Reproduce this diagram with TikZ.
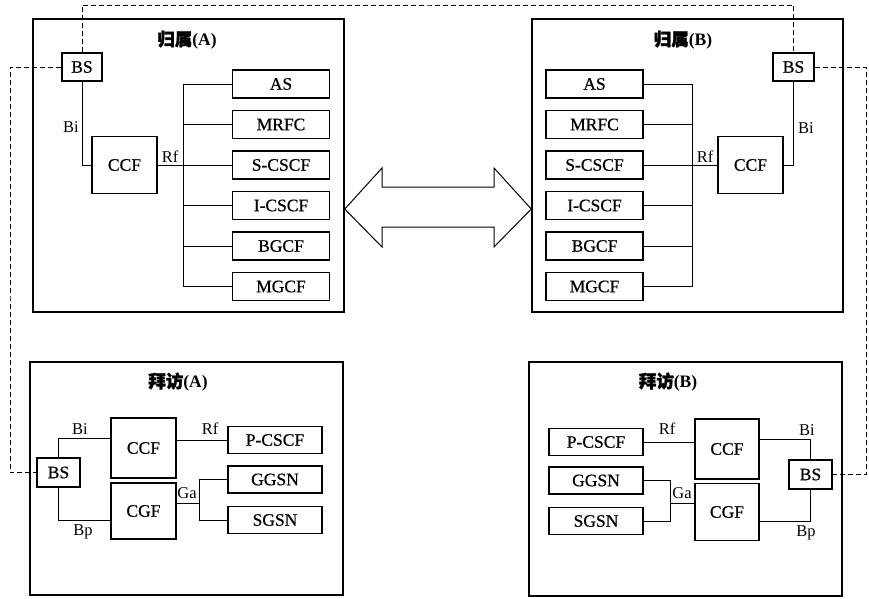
\documentclass[tikz,border=0pt]{standalone}
\usepackage{fontspec}
\setmainfont{Liberation Serif}
\newfontfamily\cjk[FakeBold=1.5]{Noto Sans CJK SC}
\newfontfamily\heavy[FakeBold=0.6]{Liberation Serif}
\usetikzlibrary{calc}
\begin{document}
\begin{tikzpicture}[x=1pt,y=-1pt,
  outer/.style={draw, line width=1.5pt, inner sep=0pt},
  fbox/.style={draw, line width=1.8pt, inner sep=0pt, minimum width=97pt, minimum height=28pt, font=\heavy\fontsize{17.5}{19}\selectfont},
  sbox/.style={draw, line width=1.8pt, inner sep=0pt, font=\heavy\fontsize{17.5}{19}\selectfont},
  conn/.style={line width=1pt},
  dline/.style={line width=1pt, dash pattern=on 5pt off 3pt},
  lbl/.style={inner sep=0pt, font=\fontsize{16.5}{18}\selectfont},
  ttl/.style={inner sep=0pt, font=\fontsize{17.5}{19}\selectfont\bfseries}
]
\useasboundingbox (0,0) rectangle (869,598);
\fill[white] (0,0) rectangle (869,598);

% ---------- Home A ----------
\node[outer, minimum width=311pt, minimum height=293pt] (homeA) at (188.5,165.5) {};
\node[ttl] (tHA) at (187,40) {{\cjk 归属}(A)};
\node[sbox, minimum width=40pt, minimum height=28pt] (bsA) at (82,67) {BS};
\node[sbox, minimum width=65pt, minimum height=57pt] (ccfA) at (124.5,165) {CCF};
\node[fbox] (asA) at (281,84) {AS};
\node[fbox] (mrfcA) at (281,124.5) {MRFC};
\node[fbox] (scscfA) at (281,165) {S-CSCF};
\node[fbox] (icscfA) at (281,205.5) {I-CSCF};
\node[fbox] (bgcfA) at (281,246) {BGCF};
\node[fbox] (mgcfA) at (281,286.5) {MGCF};
\coordinate (busA) at (183,165);
\draw[conn] (bsA.south) |- (ccfA.west);
\draw[conn] (ccfA.east) -- (busA);
\draw[conn] (asA.west) -- (asA.west -| busA) -- (mgcfA.west -| busA) -- (mgcfA.west);
\foreach \n in {mrfcA,scscfA,icscfA,bgcfA} \draw[conn] (\n.west) -- (\n.west -| busA);
\node[lbl] (lBiA) at (71,127) {Bi};
\node[lbl] (lRfA) at (170,157) {Rf};

% ---------- Home B ----------
\node[outer, minimum width=311pt, minimum height=293pt] (homeB) at (687.5,165.5) {};
\node[ttl] (tHB) at (683,40) {{\cjk 归属}(B)};
\node[sbox, minimum width=41pt, minimum height=28pt] (bsB) at (793.5,67) {BS};
\node[sbox, minimum width=65pt, minimum height=57pt] (ccfB) at (750.5,165) {CCF};
\node[fbox] (asB) at (594.5,84) {AS};
\node[fbox] (mrfcB) at (594.5,124.5) {MRFC};
\node[fbox] (scscfB) at (594.5,165) {S-CSCF};
\node[fbox] (icscfB) at (594.5,205.5) {I-CSCF};
\node[fbox] (bgcfB) at (594.5,246) {BGCF};
\node[fbox] (mgcfB) at (594.5,286.5) {MGCF};
\coordinate (busB) at (692,165);
\draw[conn] (bsB.south) |- (ccfB.east);
\draw[conn] (ccfB.west) -- (busB);
\draw[conn] (asB.east) -- (asB.east -| busB) -- (mgcfB.east -| busB) -- (mgcfB.east);
\foreach \n in {mrfcB,scscfB,icscfB,bgcfB} \draw[conn] (\n.east) -- (\n.east -| busB);
\node[lbl] (lBiB) at (806,128) {Bi};
\node[lbl] (lRfB) at (705,157) {Rf};

% ---------- double arrow ----------
\draw[line width=1pt] (homeA.east |- 0,209) -- (382,168) -- (382,187) -- (494,187) -- (494,168)
  -- (homeB.west |- 0,209) -- (494,247) -- (494,227) -- (382,227) -- (382,247) -- cycle;

% ---------- Visit A ----------
\node[outer, minimum width=313pt, minimum height=233pt] (visA) at (186.5,478.5) {};
\node[ttl] (tVA) at (178,382) {{\cjk 拜访}(A)};
\node[sbox, minimum width=43pt, minimum height=29pt] (bsvA) at (58.5,472.5) {BS};
\node[sbox, minimum width=65pt, minimum height=60pt] (ccfvA) at (143.5,448) {CCF};
\node[sbox, minimum width=65pt, minimum height=56pt] (cgfvA) at (143.5,511) {CGF};
\node[fbox, minimum width=94pt, minimum height=27pt] (pcscfvA) at (275,440) {P-CSCF};
\node[fbox, minimum width=94pt, minimum height=27pt] (ggsnvA) at (275,479.5) {GGSN};
\node[fbox, minimum width=94pt, minimum height=27pt] (sgsnvA) at (275,520) {SGSN};
\coordinate (gaA) at (199,503);
\draw[conn] (bsvA.north) |- ($(ccfvA.west)+(0,-10)$);
\draw[conn] (bsvA.south) |- ($(cgfvA.west)+(0,9)$);
\draw[conn] (ccfvA.east |- pcscfvA.west) -- (pcscfvA.west);
\draw[conn] (cgfvA.east |- gaA) -- (gaA);
\draw[conn] (ggsnvA.west) -- (ggsnvA.west -| gaA) -- (sgsnvA.west -| gaA) -- (sgsnvA.west);
\node[lbl] (lBivA) at (80,429) {Bi};
\node[lbl] (lBpvA) at (83,532) {Bp};
\node[lbl] (lRfvA) at (210,429) {Rf};
\node[lbl] (lGavA) at (187,493) {Ga};

% ---------- Visit B ----------
\node[outer, minimum width=313pt, minimum height=234pt] (visB) at (685.5,479) {};
\node[ttl] (tVB) at (668,382) {{\cjk 拜访}(B)};
\node[sbox, minimum width=43pt, minimum height=29pt] (bsvB) at (810.5,474.5) {BS};
\node[sbox, minimum width=64pt, minimum height=60pt] (ccfvB) at (727,449) {CCF};
\node[sbox, minimum width=64pt, minimum height=57pt] (cgfvB) at (727,512) {CGF};
\node[fbox, minimum width=94pt, minimum height=27pt] (pcscfvB) at (596,442) {P-CSCF};
\node[fbox, minimum width=94pt, minimum height=27pt] (ggsnvB) at (596,480.5) {GGSN};
\node[fbox, minimum width=94pt, minimum height=27pt] (sgsnvB) at (596,521) {SGSN};
\coordinate (gaB) at (670,503);
\draw[conn] ($(ccfvB.east)+(0,-10)$) -| (bsvB.north);
\draw[conn] ($(cgfvB.east)+(0,9)$) -| (bsvB.south);
\draw[conn] (pcscfvB.east) -- (pcscfvB.east -| ccfvB.west);
\draw[conn] (gaB) -- (gaB -| cgfvB.west);
\draw[conn] (ggsnvB.east) -- (ggsnvB.east -| gaB) -- (sgsnvB.east -| gaB) -- (sgsnvB.east);
\node[lbl] (lBivB) at (807,430) {Bi};
\node[lbl] (lBpvB) at (806,533) {Bp};
\node[lbl] (lRfvB) at (667,429) {Rf};
\node[lbl] (lGavB) at (682,493) {Ga};

% ---------- dashed links ----------
\coordinate (topc) at (430,5);
\coordinate (leftc) at (10,300);
\coordinate (rightc) at (866,300);
\draw[dline] (bsA.north) |- (topc) -| (bsB.north);
\draw[dline] (bsA.west) -| (leftc) |- (bsvA.west);
\draw[dline] (bsB.east) -| (rightc) |- (bsvB.east);
\end{tikzpicture}
\end{document}
